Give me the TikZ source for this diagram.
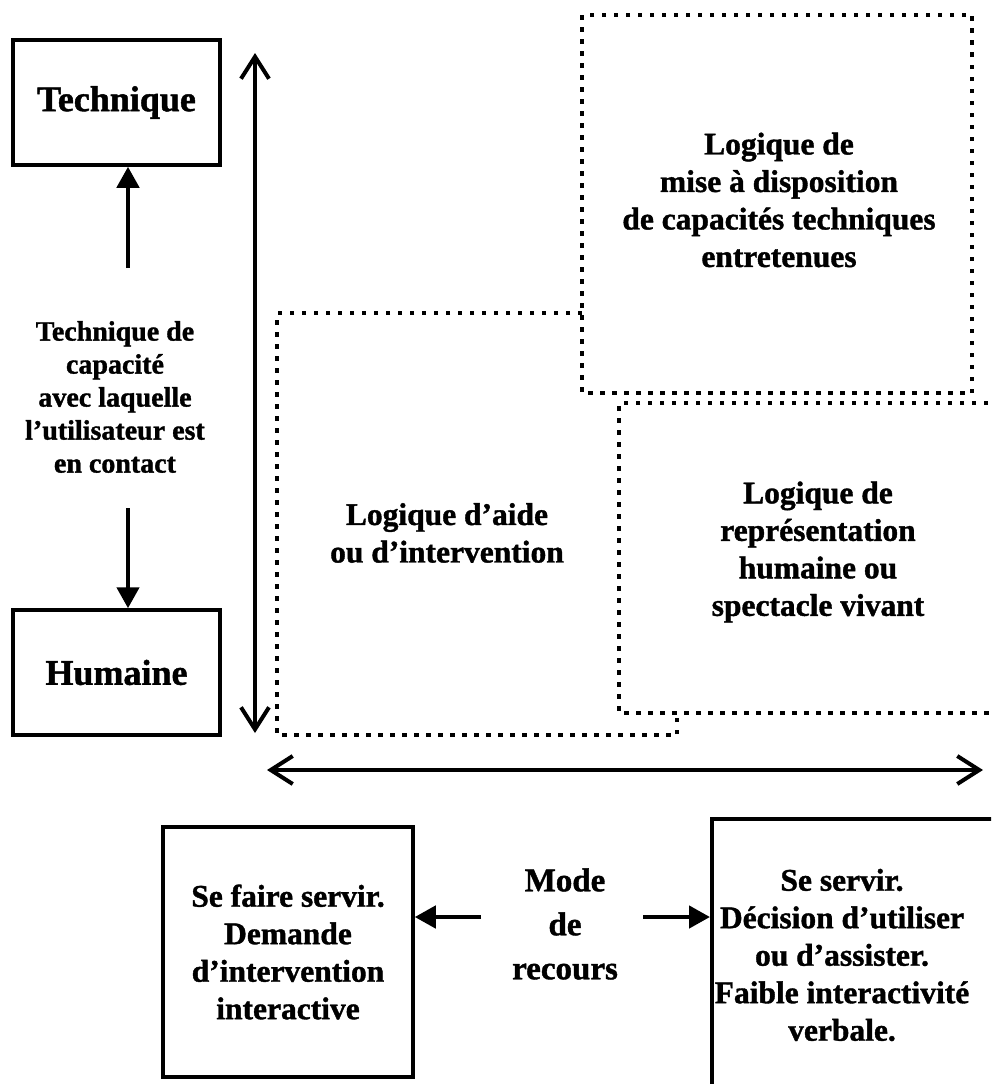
\documentclass[tikz,border=0pt]{standalone}
\usepackage{fontspec}
\setmainfont{Liberation Serif}[BoldFeatures={FakeBold=1.2}]
\usetikzlibrary{arrows.meta}

\begin{document}
\begin{tikzpicture}[x=1pt,y=-1pt,
  solidbox/.style={draw, line width=3.5pt, inner sep=0pt},
  bigtitle/.style={font=\fontsize{36}{40}\selectfont\bfseries},
  zonetext/.style={align=center, inner sep=0pt, font=\fontsize{31.5}{37.5}\selectfont\bfseries},
  sidetext/.style={align=center, inner sep=0pt, font=\fontsize{28}{33}\selectfont\bfseries},
  modetext/.style={align=center, inner sep=0pt, font=\fontsize{33}{44}\selectfont\bfseries},
  zone/.style={line width=4.5pt, dash pattern=on 4.5pt off 7.5pt},
  pointer/.style={line width=4.5pt, -{Triangle[length=21pt,width=22pt]}},
  axis/.style={line width=4pt, {Straight Barb[length=22pt,width=28pt,line width=4pt]}-{Straight Barb[length=22pt,width=28pt,line width=4pt]}}
]
\clip (0,0) rectangle (991,1084);
\fill[white] (0,0) rectangle (991,1084);

% left column: capacity axis
\node[solidbox, minimum width=207pt, minimum height=125pt, bigtitle] (tech) at (116.5,102.5) {Technique};
\node[solidbox, minimum width=207pt, minimum height=125pt, bigtitle] (hum) at (116.5,672.5) {Humaine};
\node[sidetext] (cap) at (115,397) {Technique de\\capacité\\avec laquelle\\l’utilisateur est\\en contact};
\coordinate (capup) at (128,268);
\coordinate (capdown) at (128,508);
\draw[pointer] (capup) -- (tech.south -| capup);
\draw[pointer] (capdown) -- (hum.north -| capdown);

% axes
\coordinate (vtop) at (255,53);
\coordinate (vbot) at (255,733);
\draw[axis] (vbot) -- (vtop);
\coordinate (hleft) at (267,770);
\coordinate (hright) at (983,770);
\draw[axis] (hleft) -- (hright);

% dotted zones
\draw[zone] (582,15) rectangle (972,393);
\draw[zone] (1000,403) -- (619,403) -- (619,713) -- (1000,713);
\draw[zone] (582,313) -- (277,313) -- (277,735) -- (677,735) -- (677,713);

\node[zonetext] (za) at (779,200) {Logique de\\mise à disposition\\de capacités techniques\\entretenues};
\node[zonetext] (zb) at (447,533) {Logique d’aide\\ou d’intervention};
\node[zonetext] (zc) at (818,552) {Logique de\\représentation\\humaine ou\\spectacle vivant};

% recourse mode
\node[solidbox, minimum width=250pt, minimum height=250pt] (faire) at (288,952) {};
\node[zonetext] (fairetxt) at (faire.center) {Se faire servir.\\Demande\\d’intervention\\interactive};
\node[solidbox, minimum width=320pt, minimum height=300pt, anchor=north west] (servir) at (710,817) {};
\node[zonetext] (servirtxt) at (842,955) {Se servir.\\Décision d’utiliser\\ou d’assister.\\Faible interactivité\\verbale.};
\node[modetext] (mode) at (565,924) {Mode\\de\\recours};
\coordinate (lstart) at (481,917);
\coordinate (rstart) at (643,917);
\draw[pointer] (lstart) -- (faire.east |- lstart);
\draw[pointer] (rstart) -- (servir.west |- rstart);
\end{tikzpicture}
\end{document}
